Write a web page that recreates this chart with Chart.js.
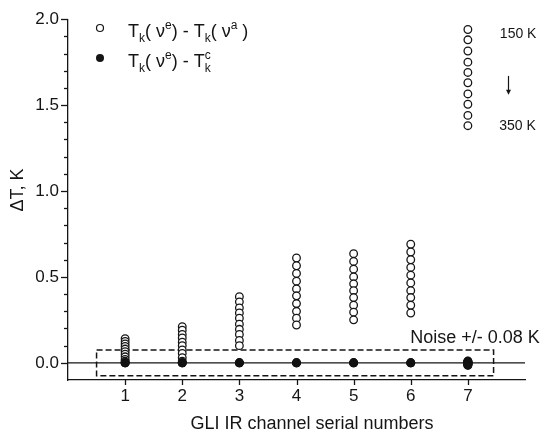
<!DOCTYPE html>
<html>
<head>
<meta charset="utf-8">
<script src="https://cdn.jsdelivr.net/npm/chart.js@4"></script>
<style>
  body { margin: 0; background: #fff; }
  canvas { display: block; }
</style>
</head>
<body>
<canvas id="dtChart" width="546" height="434"></canvas>
<script>
// GLI IR channels
const channels = [1, 2, 3, 4, 5, 6, 7];

// T_k(v^e) - T_k(v^a), 10 temperatures 150 K .. 350 K per channel
const diffOpen = [
  [0.14, 0.125, 0.11, 0.095, 0.08, 0.065, 0.05, 0.035, 0.02, 0.01],
  [0.21, 0.19, 0.165, 0.145, 0.12, 0.10, 0.075, 0.055, 0.03, 0.01],
  [0.385, 0.355, 0.32, 0.29, 0.26, 0.225, 0.195, 0.165, 0.13, 0.10],
  [0.61, 0.565, 0.52, 0.475, 0.43, 0.39, 0.345, 0.30, 0.26, 0.22],
  [0.635, 0.59, 0.545, 0.50, 0.46, 0.42, 0.38, 0.335, 0.295, 0.25],
  [0.69, 0.645, 0.60, 0.555, 0.51, 0.465, 0.42, 0.38, 0.335, 0.29],
  [0.01, 0.005, 0.0, -0.005, -0.01, -0.01, -0.005, 0.0, 0.005, 0.0]
];

// T_k(v^e) - T_k^c
const diffFilled = [
  [0, 0, 0],
  [0, 0, 0],
  [0, 0, 0],
  [0, 0, 0],
  [0, 0, 0],
  [0, 0, 0],
  [0.01, 0.005, 0, -0.005, -0.01, -0.015]
];

// temperature key column (150 K at top, 350 K at bottom)
const keyChannel = 7;
const keyValues = [1.94, 1.88, 1.815, 1.75, 1.69, 1.63, 1.565, 1.505, 1.44, 1.38];

// noise band +/- 0.08 K
const noiseBand = 0.075;
const noiseFrom = 0.5;
const noiseTo = 7.45;

const yTicks = [0.0, 0.5, 1.0, 1.5, 2.0];

const ink = '#151515';
const font = 'Liberation Sans, Arial, sans-serif';

function toPoints(rows) {
  const pts = [];
  rows.forEach((vals, i) => vals.forEach(v => pts.push({ x: channels[i], y: v })));
  return pts;
}

const openPts = toPoints(diffOpen).concat(keyValues.map(v => ({ x: keyChannel, y: v })));
const filledPts = toPoints(diffFilled);

const boxPts = [
  { x: noiseFrom, y: noiseBand }, { x: noiseTo, y: noiseBand },
  { x: noiseTo, y: -noiseBand }, { x: noiseFrom, y: -noiseBand },
  { x: noiseFrom, y: noiseBand }
];

// small helper to write T_k(...) style text with sub/superscripts
function richText(c, x, y, parts) {
  parts.forEach(p => {
    if (p.t === 'n') {
      c.font = '18px ' + font;
      c.fillText(p.s, x, y);
      x += c.measureText(p.s).width;
    } else if (p.t === 'sub') {
      c.font = '12px ' + font;
      c.fillText(p.s, x, y + 5);
      x += c.measureText(p.s).width;
    } else if (p.t === 'sup') {
      c.font = '12px ' + font;
      c.fillText(p.s, x, y - 8);
      x += c.measureText(p.s).width;
    } else if (p.t === 'subsup') {
      c.font = '12px ' + font;
      c.fillText(p.b, x, y + 5);
      c.fillText(p.a, x, y - 8);
      x += Math.max(c.measureText(p.a).width, c.measureText(p.b).width);
    }
  });
}

const decor = {
  id: 'decor',
  afterDraw(chart) {
    const c = chart.ctx;
    const xs = chart.scales.x, ys = chart.scales.y;
    const left = chart.chartArea.left, bottom = chart.chartArea.bottom;
    c.save();
    c.strokeStyle = ink;
    c.fillStyle = ink;
    c.lineWidth = 1.3;

    // y ticks: minor every 0.1, major every 0.5
    for (let i = 0; i <= 20; i++) {
      const py = Math.round(ys.getPixelForValue(i / 10)) + 0.5;
      const len = i % 5 === 0 ? 7 : 4;
      c.beginPath();
      c.moveTo(left, py);
      c.lineTo(left - len, py);
      c.stroke();
    }
    // x ticks
    channels.forEach(ch => {
      const px = Math.round(xs.getPixelForValue(ch)) + 0.5;
      c.beginPath();
      c.moveTo(px, bottom);
      c.lineTo(px, bottom + 5);
      c.stroke();
    });

    // axis titles
    c.font = '18px ' + font;
    c.textAlign = 'center';
    c.textBaseline = 'middle';
    c.fillText('GLI IR channel serial numbers', 312, 424);
    c.save();
    c.translate(18, 190);
    c.rotate(-Math.PI / 2);
    c.fillText('\u0394T, K', 0, 0);
    c.restore();

    // legend
    c.lineWidth = 1.2;
    c.beginPath();
    c.arc(100, 28, 3.5, 0, Math.PI * 2);
    c.stroke();
    c.beginPath();
    c.arc(100, 58, 4, 0, Math.PI * 2);
    c.fill();
    c.textAlign = 'left';
    c.textBaseline = 'alphabetic';
    richText(c, 128, 37, [
      { t: 'n', s: 'T' }, { t: 'sub', s: 'k' }, { t: 'n', s: '( \u03bd' }, { t: 'sup', s: 'e' },
      { t: 'n', s: ') - T' }, { t: 'sub', s: 'k' }, { t: 'n', s: '( \u03bd' }, { t: 'sup', s: 'a' },
      { t: 'n', s: ' )' }
    ]);
    richText(c, 128, 67, [
      { t: 'n', s: 'T' }, { t: 'sub', s: 'k' }, { t: 'n', s: '( \u03bd' }, { t: 'sup', s: 'e' },
      { t: 'n', s: ') - T' }, { t: 'subsup', a: 'c', b: 'k' }
    ]);

    // temperature key labels
    c.font = '14px ' + font;
    c.textBaseline = 'middle';
    c.fillText('150 K', xs.getPixelForValue(7.56), ys.getPixelForValue(1.915));
    c.fillText('350 K', xs.getPixelForValue(7.55), ys.getPixelForValue(1.38));
    const ax = Math.round(xs.getPixelForValue(7.7)) + 0.5;
    const ay1 = ys.getPixelForValue(1.67), ay2 = ys.getPixelForValue(1.56);
    c.lineWidth = 1.2;
    c.beginPath();
    c.moveTo(ax, ay1);
    c.lineTo(ax, ay2 - 3);
    c.stroke();
    c.beginPath();
    c.moveTo(ax - 2.5, ay2 - 5);
    c.lineTo(ax + 2.5, ay2 - 5);
    c.lineTo(ax, ay2);
    c.closePath();
    c.fill();

    // noise label
    c.font = '18px ' + font;
    c.fillText('Noise +/- 0.08 K', xs.getPixelForValue(5.99), ys.getPixelForValue(0.147));
    c.restore();
  }
};

new Chart(document.getElementById('dtChart').getContext('2d'), {
  type: 'scatter',
  data: {
    datasets: [
      {
        label: 'Tk(ve) - Tk(vc)',
        data: filledPts,
        pointRadius: 4.5,
        pointBorderWidth: 0,
        backgroundColor: '#111',
        borderColor: '#111',
        order: 1
      },
      {
        label: 'Tk(ve) - Tk(va)',
        data: openPts,
        pointRadius: 3.8,
        pointBorderWidth: 1.3,
        backgroundColor: '#fff',
        borderColor: ink,
        order: 2
      },
      {
        label: 'noise',
        data: boxPts,
        showLine: true,
        pointRadius: 0,
        borderColor: ink,
        borderWidth: 1.5,
        borderDash: [6, 3],
        order: 3
      },
      {
        label: 'zero',
        data: [{ x: 0, y: 0 }, { x: 8, y: 0 }],
        showLine: true,
        pointRadius: 0,
        borderColor: ink,
        borderWidth: 1.2,
        order: 4
      }
    ]
  },
  options: {
    responsive: false,
    animation: false,
    devicePixelRatio: 1,
    layout: { padding: { left: 0, top: 15, right: 21, bottom: 0 } },
    plugins: {
      legend: { display: false },
      tooltip: { enabled: false }
    },
    scales: {
      x: {
        type: 'linear',
        min: 0,
        max: 8,
        afterFit: s => { s.height = 54; },
        border: { display: true, color: ink, width: 1.3 },
        grid: { display: true, drawOnChartArea: false, drawTicks: false },
        ticks: {
          stepSize: 1,
          padding: 6,
          color: ink,
          font: { family: font, size: 17 },
          callback: v => channels.includes(v) ? String(v) : ''
        }
      },
      y: {
        type: 'linear',
        min: -0.1,
        max: 2.0,
        afterFit: s => { s.width = 68; },
        border: { display: true, color: ink, width: 1.3 },
        grid: { display: true, drawOnChartArea: false, drawTicks: false },
        ticks: {
          stepSize: 0.1,
          autoSkip: false,
          padding: 9,
          color: ink,
          font: { family: font, size: 17 },
          callback: v => {
            const hit = yTicks.find(t => Math.abs(t - v) < 1e-6);
            return hit !== undefined ? hit.toFixed(1) : '';
          }
        }
      }
    }
  },
  plugins: [decor]
});
</script>
</body>
</html>
